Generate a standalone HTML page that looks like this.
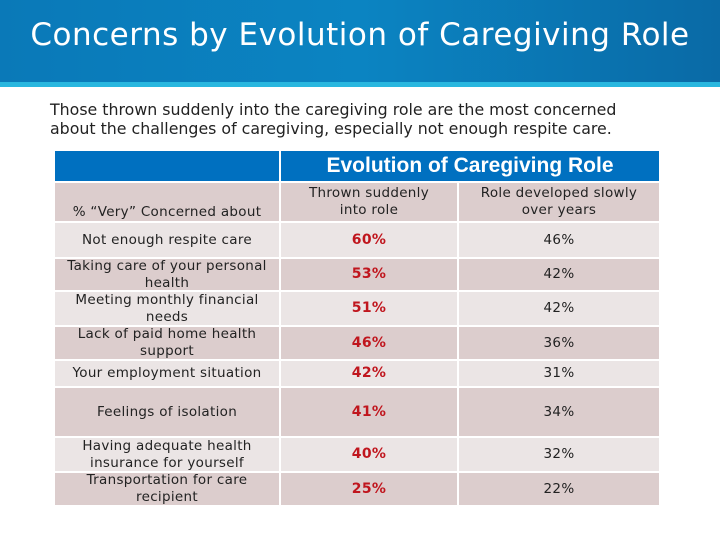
<!DOCTYPE html>
<html><head><meta charset="utf-8"><style>
body{margin:0;width:720px;height:540px;position:relative;overflow:hidden;background:#fff;font-family:"DejaVu Sans","Liberation Sans",sans-serif;}
.abs{position:absolute;}
.title{left:0;top:0;width:720px;height:82px;background:linear-gradient(90deg,#0a79b8,#0b84c2 50%,#0a6aa6);}
.stripe{left:0;top:82px;width:720px;height:5px;background:#29b7df;}
.cell{position:absolute;display:flex;align-items:center;justify-content:center;text-align:center;font-size:13.5px;color:#222;line-height:17px;box-sizing:border-box;padding:0 2px;white-space:pre-line;letter-spacing:0.3px;}
.d{background:#dccdcd;}.l{background:#ebe5e5;}
.r{color:#c0161e;font-weight:bold;font-size:14px;}
</style></head><body>
<div class="abs title"></div>
<div class="abs stripe"></div>
<div class="abs" style="left:0;top:17px;width:720px;text-align:center;color:#fff;font-size:31px;letter-spacing:0.5px;">Concerns by Evolution of Caregiving Role</div>
<div class="abs" style="left:50px;top:100px;font-size:15.8px;line-height:19px;color:#222;white-space:nowrap;">Those thrown suddenly into the caregiving role are the most concerned<br>about the challenges of caregiving, especially not enough respite care.</div>
<div class="abs" style="left:55px;top:151px;width:224px;height:30px;background:#0070c0;"></div>
<div class="abs" style="left:281px;top:151px;width:378px;height:30px;background:#0070c0;color:#fff;font-weight:bold;font-size:21px;display:flex;align-items:center;justify-content:center;font-family:'Liberation Sans',sans-serif;">Evolution of Caregiving Role</div>
<div id="t"></div>
<script>
const labels=["Not enough respite care","Taking care of your personal\nhealth","Meeting monthly financial\nneeds","Lack of paid home health\nsupport","Your employment situation","Feelings of isolation","Having adequate health\ninsurance for yourself","Transportation for care\nrecipient"];
const sudden=[60,53,51,46,42,41,40,25];
const slow=[46,42,42,36,31,34,32,22];
const rows=[[223,257],[259,290],[292,325],[327,359],[361,386],[388,436],[438,471],[473,505]];
const t=document.getElementById('t');
function cell(x,y,w,h,cls,txt,name){const d=document.createElement('div');d.className='cell '+cls;d.style.left=x+'px';d.style.top=y+'px';d.style.width=w+'px';d.style.height=h+'px';d.innerHTML=txt;


t.appendChild(d);}
cell(55,183,224,38,'d','<span style="align-self:flex-end;margin-bottom:0px">% “Very” Concerned about</span>','row-header');
cell(281,183,176,38,'d','Thrown suddenly\ninto role','col-header-sudden');
cell(459,183,200,38,'d','Role developed slowly\nover years','col-header-slow');
labels.forEach((lb,i)=>{const [a,b]=rows[i];const c=i%2?'d':'l';
cell(55,a,224,b-a,c,lb,'row-label');
cell(281,a,176,b-a,c+' r',sudden[i]+'%','value-sudden');
cell(459,a,200,b-a,c,slow[i]+'%','value-slow');});
</script>
</body></html>
